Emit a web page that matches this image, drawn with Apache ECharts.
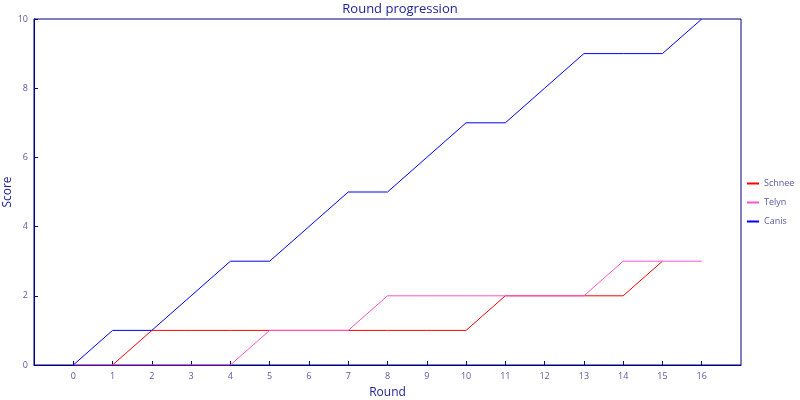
<!DOCTYPE html>
<html><head><meta charset="utf-8">
<script src="https://cdn.jsdelivr.net/npm/echarts@6/dist/echarts.min.js"></script>
<style>html,body{margin:0;padding:0;background:#fff}#c{width:800px;height:400px}</style>
</head><body><div id="c"></div>
<script>
const rounds = [0,1,2,3,4,5,6,7,8,9,10,11,12,13,14,15,16];
const schneeRounds = [1,2,3,4,5,6,7,8,9,10,11,12,13,14,15];
const schnee = [0,1,1,1,1,1,1,1,1,1,2,2,2,2,3];
const telyn = [0,0,0,0,0,1,1,1,2,2,2,2,2,2,3,3,3];
const canis = [0,1,1,2,3,3,4,5,5,6,7,7,8,9,9,9,10];
const yTicks = [0,2,4,6,8,10];

const navy = '#000080';
const labelCol = '#5a5aa8';
const font = 'Open Sans';
const chart = echarts.init(document.getElementById('c'));
chart.setOption({
  animation: false,
  title: {text: 'Round progression', left: 'center', top: -2,
    textStyle: {fontFamily: font, fontSize: 13, fontWeight: 'normal', color: '#22229a'}},
  grid: {left: 34, right: 59, top: 19, bottom: 35, show: true, borderColor: navy, borderWidth: 1,
    containLabel: false, outerBoundsMode: 'none'},
  legend: {orient: 'vertical', left: 747, top: 179, padding: 0, itemWidth: 12, itemHeight: 2, itemGap: 10,
    icon: 'rect', textStyle: {fontFamily: font, fontSize: 9, color: labelCol},
    data: ['Schnee','Telyn','Canis']},
  xAxis: {type: 'value', min: -1, max: 17, interval: 1, name: 'Round', nameLocation: 'middle', nameGap: 22,
    nameMoveOverlap: false,
    nameTextStyle: {fontFamily: font, fontSize: 12, color: '#22229a'},
    axisLine: {onZero: false, lineStyle: {color: navy}}, splitLine: {show: false},
    axisTick: {inside: true, length: 4, lineStyle: {color: navy}, customValues: rounds},
    axisLabel: {fontFamily: font, fontSize: 9, color: labelCol, margin: 7, customValues: rounds}},
  yAxis: {type: 'value', min: 0, max: 10, interval: 2, name: 'Score', nameLocation: 'middle', nameGap: 20,
    nameMoveOverlap: false,
    nameTextStyle: {fontFamily: font, fontSize: 12, color: '#22229a'},
    axisLine: {show: true, onZero: false, lineStyle: {color: navy}}, splitLine: {show: false},
    axisTick: {show: true, inside: true, length: 4, lineStyle: {color: navy}, customValues: yTicks},
    axisLabel: {fontFamily: font, fontSize: 9, color: labelCol, margin: 6, customValues: yTicks}},
  series: [
    {name: 'Schnee', type: 'line', showSymbol: false, color: '#ff0000', lineStyle: {width: 1},
      data: schneeRounds.map((r, i) => [r, schnee[i]])},
    {name: 'Telyn', type: 'line', showSymbol: false, color: '#ff55cc', lineStyle: {width: 1},
      data: rounds.map((r, i) => [r, telyn[i]])},
    {name: 'Canis', type: 'line', showSymbol: false, color: '#0000ff', lineStyle: {width: 1},
      data: rounds.map((r, i) => [r, canis[i]])}
  ]
});
</script></body></html>
